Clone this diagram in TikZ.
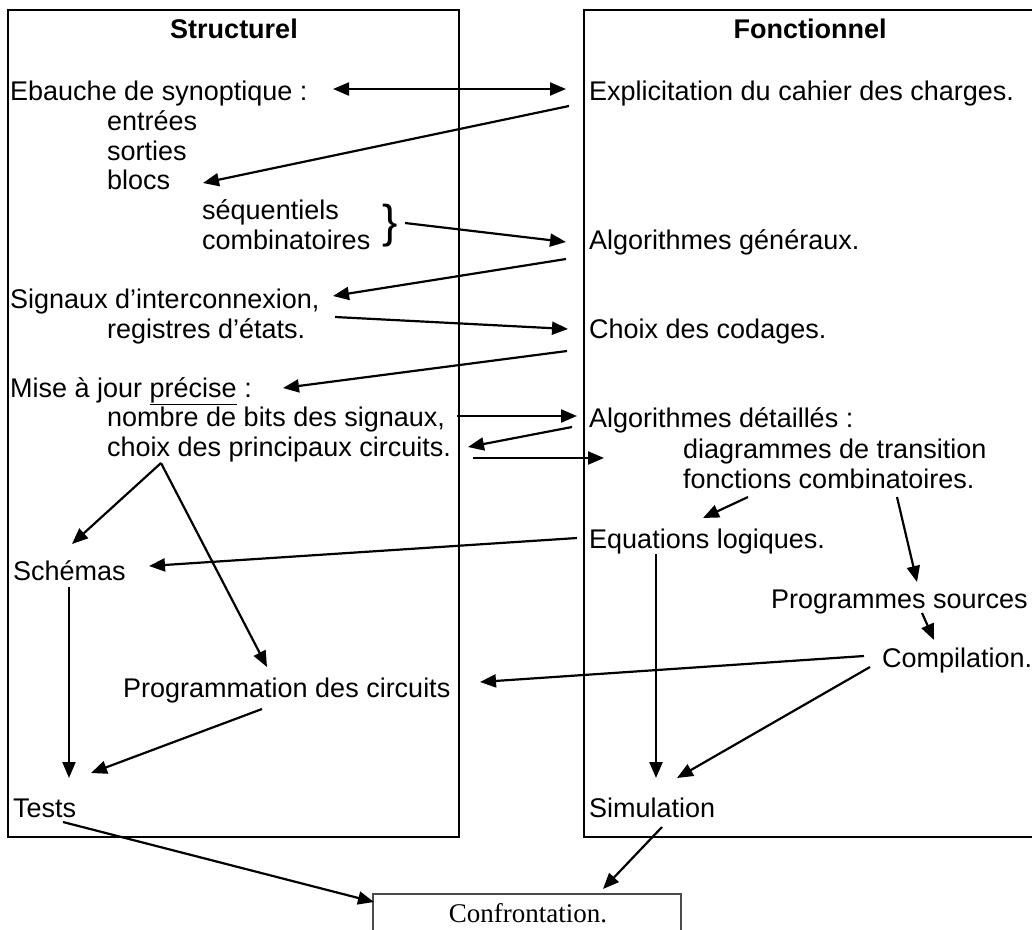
\documentclass[tikz,border=0pt]{standalone}
\usepackage{fontspec}
\setmainfont{Liberation Sans}
\newfontfamily\timesfont{Liberation Serif}
\usetikzlibrary{arrows.meta}
\begin{document}
\begin{tikzpicture}[x=1pt,y=-1pt,
  txt/.style={anchor=base west, inner sep=0pt, font=\fontsize{27}{31}\selectfont},
  head/.style={anchor=base, inner sep=0pt, font=\fontsize{27}{31}\selectfont\bfseries},
  frame/.style={draw=black, line width=1.2pt},
  link/.style={line width=2.2pt, -{Triangle[length=16pt,width=13pt]}},
  both/.style={line width=2.2pt, {Triangle[length=16pt,width=13pt]}-{Triangle[length=16pt,width=13pt]}},
]
\useasboundingbox (0,0) rectangle (1032,929);

% the two columns
\draw[frame] (8,10) rectangle (459,837);
\draw[frame] (1040,10) -- (584,10) -- (584,837) -- (1040,837);
% bottom box
\draw[draw=black!70, line width=1.2pt] (373,935) -- (373,894) -- (681,894) -- (681,935);

% structural column
\node[head] (hs) at (234,38) {Structurel};
\node[txt] (ebauche) at (10,100) {Ebauche de synoptique :};
\node[txt] (entrees) at (107,130) {entrées};
\node[txt] (sorties) at (107,160) {sorties};
\node[txt] (blocs) at (107,189) {blocs};
\node[txt] (seq) at (202,219) {séquentiels};
\node[txt] (comb) at (202,249) {combinatoires};
\node[anchor=center, inner sep=0pt, font=\fontsize{46}{46}\selectfont] (brace) at (390,226) {\}};
\node[txt] (signaux) at (10,308) {Signaux d’interconnexion,};
\node[txt] (registres) at (107,338) {registres d’états.};
\node[txt] (mise) at (10,397) {Mise à jour \underline{précise} :};
\node[txt] (nombre) at (107,426) {nombre de bits des signaux,};
\node[txt] (choix) at (107,456) {choix des principaux circuits.};
\node[txt] (schemas) at (13,580) {Schémas};
\node[txt] (prog) at (123,697) {Programmation des circuits};
\node[txt] (tests) at (13,817) {Tests};

% functional column
\node[head] (hf) at (810,38) {Fonctionnel};
\node[txt] (explic) at (589,100) {Explicitation du cahier des charges.};
\node[txt] (alggen) at (589,249) {Algorithmes généraux.};
\node[txt] (codages) at (589,338) {Choix des codages.};
\node[txt] (algdet) at (589,427) {Algorithmes détaillés :};
\node[txt] (diag) at (683,458) {diagrammes de transition};
\node[txt] (fonc) at (683,488) {fonctions combinatoires.};
\node[txt] (equ) at (589,548) {Equations logiques.};
\node[txt] (sources) at (771,608) {Programmes sources};
\node[txt] (compil) at (882,667) {Compilation.};
\node[txt] (simu) at (589,817) {Simulation};
\node[anchor=base, inner sep=0pt, font=\timesfont\fontsize{27}{30}\selectfont] (confr) at (528,922) {Confrontation.};

% connector ends
\coordinate (a1) at (333,89);   \coordinate (b1) at (566,89);
\coordinate (a2) at (569,106);  \coordinate (b2) at (203,183);
\coordinate (a3) at (405,223);  \coordinate (b3) at (566,242);
\coordinate (a4) at (566,259);  \coordinate (b4) at (333,296);
\coordinate (a5) at (335,317);  \coordinate (b5) at (568,329);
\coordinate (a6) at (567,351);  \coordinate (b6) at (283,388);
\coordinate (a7) at (457,416);  \coordinate (b7) at (577,416);
\coordinate (a8) at (572,427);  \coordinate (b8) at (468,447);
\coordinate (a9) at (473,458);  \coordinate (b9) at (604,458);
\coordinate (c0) at (161,463);
\coordinate (b10) at (72,544);
\coordinate (b11) at (267,667);
\coordinate (a12) at (577,538); \coordinate (b12) at (149,566);
\coordinate (a13) at (69,587);  \coordinate (b13) at (69,778);
\coordinate (a14) at (262,709); \coordinate (b14) at (91,773);
\coordinate (a15) at (63,822);  \coordinate (b15) at (374,902);
\coordinate (a16) at (662,827); \coordinate (b16) at (603,889);
\coordinate (a17) at (656,554); \coordinate (b17) at (656,778);
\coordinate (a18) at (870,667); \coordinate (b18) at (677,778);
\coordinate (a19) at (864,656); \coordinate (b19) at (480,682);
\coordinate (a20) at (748,497); \coordinate (b20) at (703,518);
\coordinate (a21) at (897,497); \coordinate (b21) at (917,582);
\coordinate (a22) at (922,613); \coordinate (b22) at (934,640);

% connectors
\draw[both] (a1) -- (b1);
\draw[link] (a2) -- (b2);
\draw[link] (a3) -- (b3);
\draw[link] (a4) -- (b4);
\draw[link] (a5) -- (b5);
\draw[link] (a6) -- (b6);
\draw[link] (a7) -- (b7);
\draw[link] (a8) -- (b8);
\draw[link] (a9) -- (b9);
\draw[link] (c0) -- (b10);
\draw[link] (c0) -- (b11);
\draw[link] (a12) -- (b12);
\draw[link] (a13) -- (b13);
\draw[link] (a14) -- (b14);
\draw[link] (a15) -- (b15);
\draw[link] (a16) -- (b16);
\draw[link] (a17) -- (b17);
\draw[link] (a18) -- (b18);
\draw[link] (a19) -- (b19);
\draw[link] (a20) -- (b20);
\draw[link] (a21) -- (b21);
\draw[link] (a22) -- (b22);
\end{tikzpicture}
\end{document}
